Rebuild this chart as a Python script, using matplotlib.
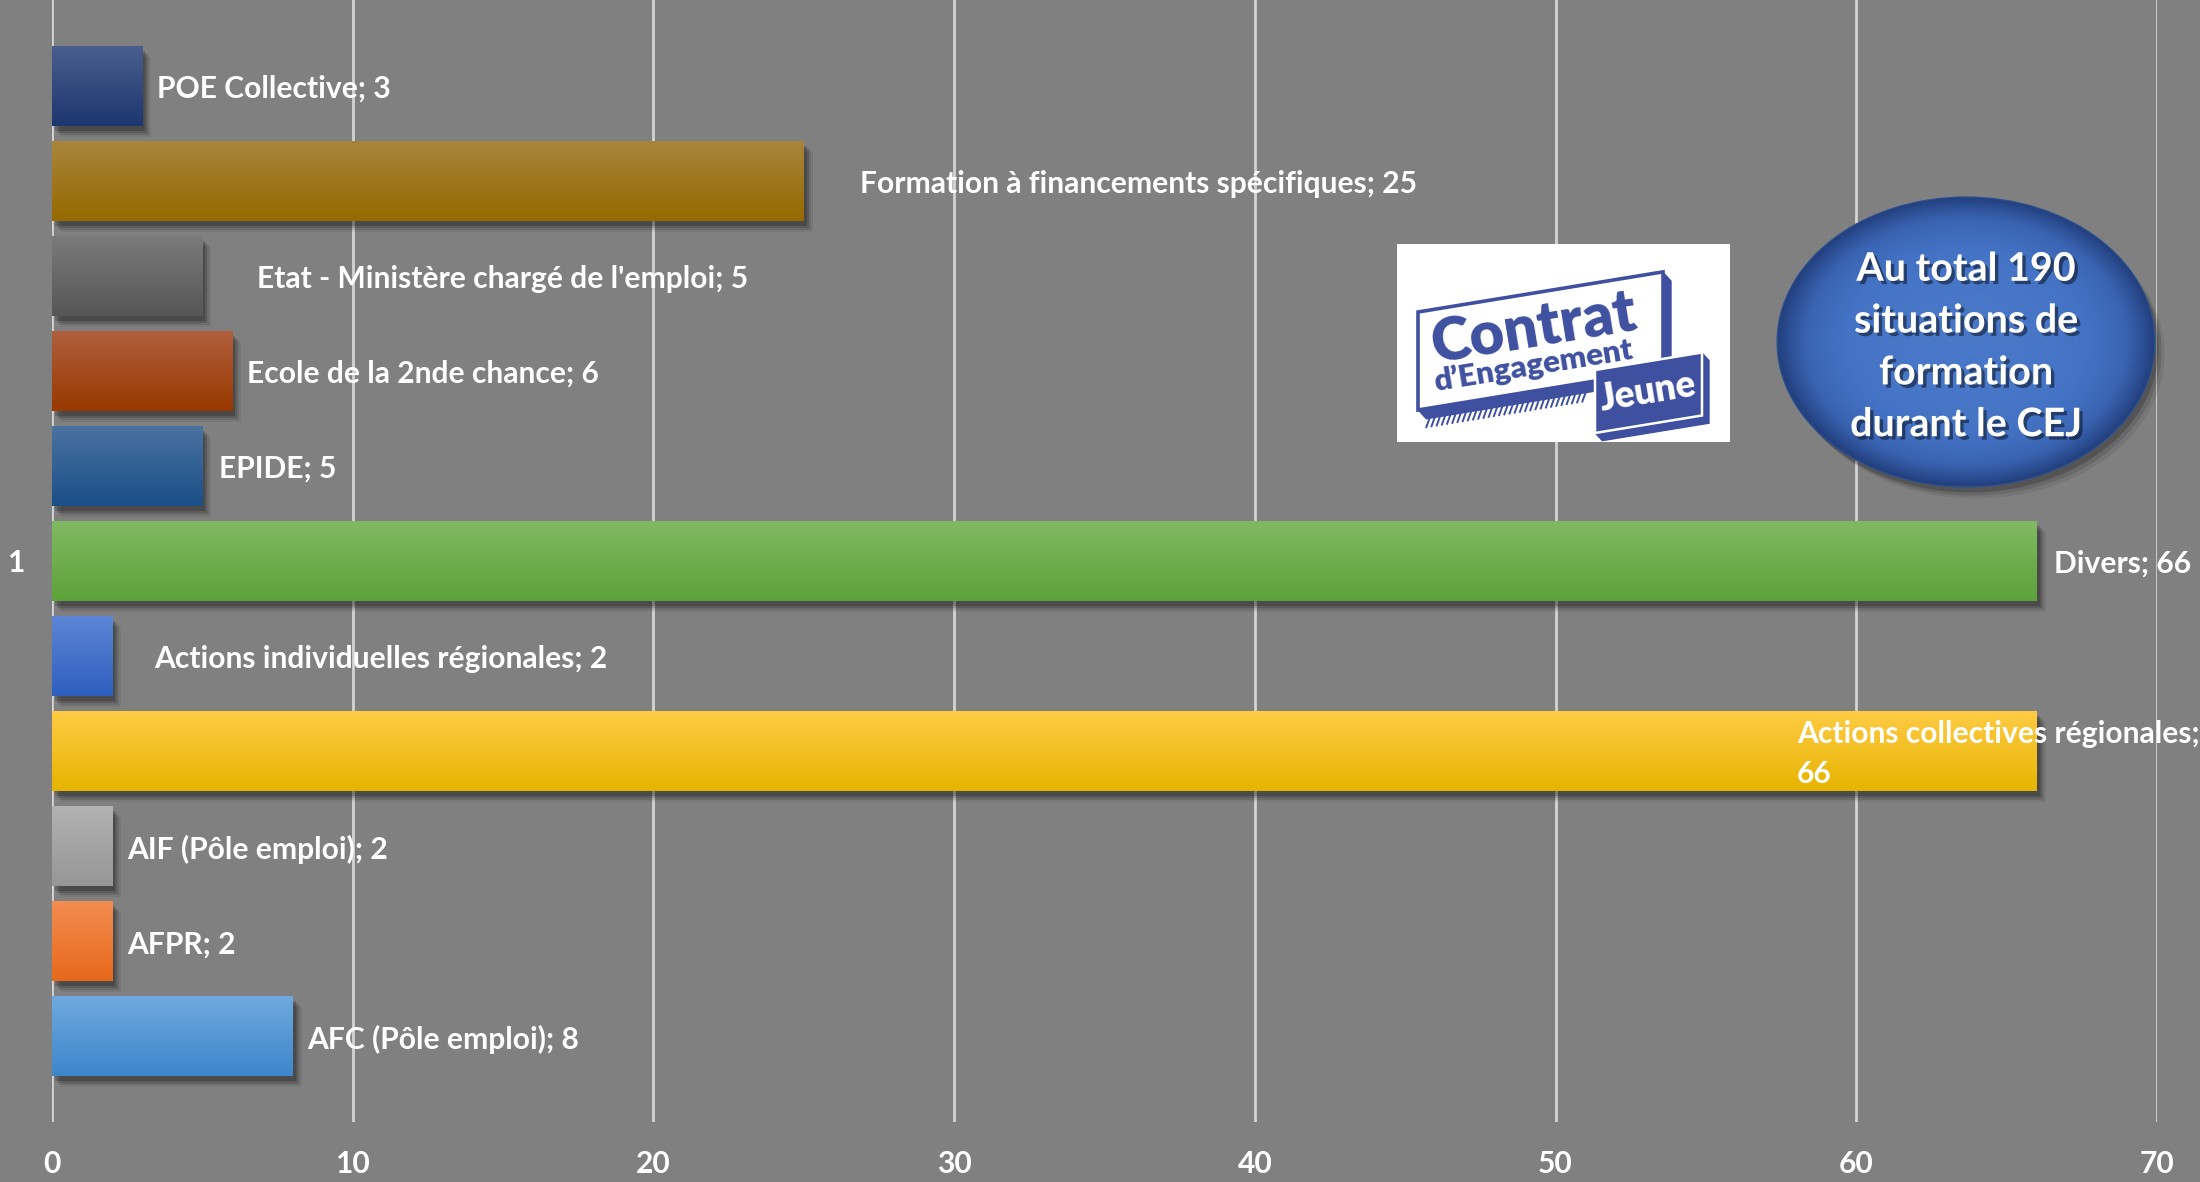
import numpy as np
import matplotlib
matplotlib.use("Agg")
import matplotlib.pyplot as plt
from matplotlib.patches import Ellipse, Rectangle, Polygon
from matplotlib.colors import LinearSegmentedColormap
import matplotlib.transforms as mtransforms
import matplotlib.patheffects as pe

# ---------------- data ----------------
categories = ["AFC (Pôle emploi)", "AFPR", "AIF (Pôle emploi)",
              "Actions collectives régionales", "Actions individuelles régionales",
              "Divers", "EPIDE", "Ecole de la 2nde chance",
              "Etat - Ministère chargé de l'emploi",
              "Formation à financements spécifiques", "POE Collective"]
values = [8, 2, 2, 66, 2, 66, 5, 6, 5, 25, 3]
label_separators = ["; ", "; ", "; ", ";\n", "; ", "; ", "; ", "; ", "; ", "; ", "; "]
category_label = "1"
x_ticks = [0, 10, 20, 30, 40, 50, 60, 70]
total_text = "Au total 190\nsituations de\nformation\ndurant le CEJ"
logo_words = ["Contrat", "d\u2019Engagement", "Jeune"]

# ---------------- style ----------------
top_colors = ["#70a9df", "#f38d52", "#b2b2b2", "#ffcb45", "#5d86d6",
              "#80b962", "#4b73a1", "#b0603e", "#7b7b7b", "#a8853c", "#4a5e8f"]
bottom_colors = ["#3d86cb", "#e7681a", "#969696", "#e6b400", "#2e5ebe",
                 "#5da239", "#1a4f88", "#993800", "#565656", "#966a00", "#1d376f"]
label_offsets_px = [15, 15, 15, -240, 42, 17, 17, 15, 55, 56, 15]
bg = "#808080"
FONT = ["Lato", "DejaVu Sans"]
plt.rcParams["font.family"] = FONT
LBL = 10.8

W, H, DPI = 2200, 1182, 200
fig = plt.figure(figsize=(W / DPI, H / DPI), dpi=DPI, facecolor=bg)
ax = fig.add_axes([52 / W, 1 - 1122 / H, (2157 - 52) / W, 1122 / H])
ax.set_facecolor(bg)

ypos = np.arange(len(values))
bar_h = 0.84
bars = ax.barh(ypos, values, height=bar_h, color=bottom_colors, zorder=3, linewidth=0)

# shadows (soft, offset down-right)
for b in bars:
    for dx, dy, a in [(3, -5, 0.18), (5, -7, 0.14), (7, -9, 0.10), (9, -11, 0.06)]:
        tr = mtransforms.offset_copy(ax.transData, fig=fig, x=dx, y=dy, units="dots")
        sh = Rectangle(b.get_xy(), b.get_width(), b.get_height(), transform=tr,
                       facecolor="black", alpha=a, linewidth=0, zorder=2)
        ax.add_patch(sh)

# vertical gradient fill on each bar
grad = np.linspace(0, 1, 256).reshape(-1, 1)
for b, ct, cb in zip(bars, top_colors, bottom_colors):
    cmap = LinearSegmentedColormap.from_list("g", [cb, ct])
    x0, y0 = b.get_xy()
    im = ax.imshow(grad, extent=[x0, x0 + b.get_width(), y0, y0 + b.get_height()],
                   origin="lower", aspect="auto", cmap=cmap, interpolation="bicubic", zorder=4)
    im.set_clip_path(b)

# labels
for i, (c, v, sep, off) in enumerate(zip(categories, values, label_separators, label_offsets_px)):
    ax.annotate(f"{c}{sep}{v}", xy=(v, ypos[i]), xytext=(off, -3), textcoords="offset pixels",
                ha="left", va="center", color="white", fontsize=LBL, fontweight="bold",
                linespacing=1.55, zorder=6)

ax.set_xlim(0, 70)
ax.set_ylim(-0.9, 10.9)
ax.set_xticks(x_ticks)
ax.set_xticklabels([str(t) for t in x_ticks])
ax.set_yticks([ypos[len(ypos) // 2]])
ax.set_yticklabels([category_label])
ax.tick_params(axis="both", length=0, colors="white", labelsize=LBL)
ax.tick_params(axis="x", pad=10)
ax.tick_params(axis="y", pad=10)
for t in ax.get_xticklabels() + ax.get_yticklabels():
    t.set_fontweight("bold")
ax.grid(axis="x", color="#d4d4d4", linewidth=1.0, zorder=1)
ax.set_axisbelow(True)
for s in ax.spines.values():
    s.set_visible(False)

# ---------------- overlay: logo + bubble ----------------
ov = fig.add_axes([0, 0, 1, 1], zorder=5)
ov.axis("off")
ov.patch.set_alpha(0)

# logo (parallelogram frame with vertical sides, sloped top/bottom)
blue = "#3f50a0"
ov.add_patch(Rectangle((1397, 244), 333, 198, facecolor="white", edgecolor="none", zorder=1))
slope = np.tan(np.radians(9.3))


def para(x0, x1, ytop0, h):
    yt1 = ytop0 - (x1 - x0) * slope
    return [(x0, ytop0), (x1, yt1), (x1, yt1 + h), (x0, ytop0 + h)]


def shift(pts, dx, dy):
    return [(x + dx, y + dy) for x, y in pts]


frame = para(1418, 1663, 312, 98)
for k in range(1, 9):
    ov.add_patch(Polygon(shift(frame, k, k * 1.1), closed=True, facecolor=blue, edgecolor=blue, lw=0.5, zorder=2))
ov.add_patch(Polygon(frame, closed=True, facecolor="white", edgecolor=blue, linewidth=1.3, zorder=3))
# hatch below frame
for hx in np.arange(1430, 1590, 5.2):
    yb = 312 + 98 - (hx - 1418) * slope + 9
    ov.plot([hx, hx - 4], [yb, yb + 11], color=blue, lw=0.7, zorder=2, solid_capstyle="butt")
# Jeune box
box = para(1595, 1702, 370, 63)
for k in range(1, 8):
    ov.add_patch(Polygon(shift(box, k, k * 1.1), closed=True, facecolor=blue, edgecolor=blue, lw=0.5, zorder=4))
ov.add_patch(Polygon(box, closed=True, facecolor=blue, edgecolor="white", linewidth=0.9, zorder=5))
for word, (px, py), fs in zip(logo_words, [(1534, 329), (1533, 366), (1648, 392)], [21.5, 11.3, 13.2]):
    ov.text(px, py, word, rotation=9.3, rotation_mode="anchor", ha="center", va="center",
            fontsize=fs, fontweight="heavy", color="white" if word == logo_words[2] else blue,
            zorder=6, family=["Lato", "DejaVu Sans"])

# bubble
ecx, ecy, ew, eh = 1966, 342, 377, 289
for dx, dy, a in [(4, 6, 0.18), (7, 9, 0.12), (10, 12, 0.07)]:
    ov.add_patch(Ellipse((ecx + dx, ecy + dy), ew, eh, facecolor="black", alpha=a,
                         linewidth=0, zorder=1))
ell = Ellipse((ecx, ecy), ew, eh, facecolor="#4472c4", edgecolor="#2f528f", linewidth=0.8, zorder=2)
ov.add_patch(ell)
yy, xx = np.mgrid[-1:1:300j, -1:1:300j]
r = np.sqrt(xx ** 2 + yy ** 2)
rcmap = LinearSegmentedColormap.from_list("r", ["#4a78c9", "#4472c4", "#3a64b2", "#23407f"])
rim = ov.imshow(np.clip(r, 0, 1) ** 2.5, extent=[ecx - ew / 2, ecx + ew / 2, ecy + eh / 2, ecy - eh / 2],
                cmap=rcmap, vmin=0, vmax=1, interpolation="bicubic", aspect="auto", zorder=3)
rim.set_clip_path(ell)
ov.set_xlim(0, W)
ov.set_ylim(H, 0)
ov.text(ecx, ecy + 5, total_text, ha="center", va="center", color="white", fontsize=14.2,
        fontweight="bold", linespacing=1.58, zorder=4,
        path_effects=[pe.withSimplePatchShadow(offset=(1.2, -1.2), shadow_rgbFace="black", alpha=0.45)])

fig.savefig("out.png", dpi=DPI, facecolor=bg)
